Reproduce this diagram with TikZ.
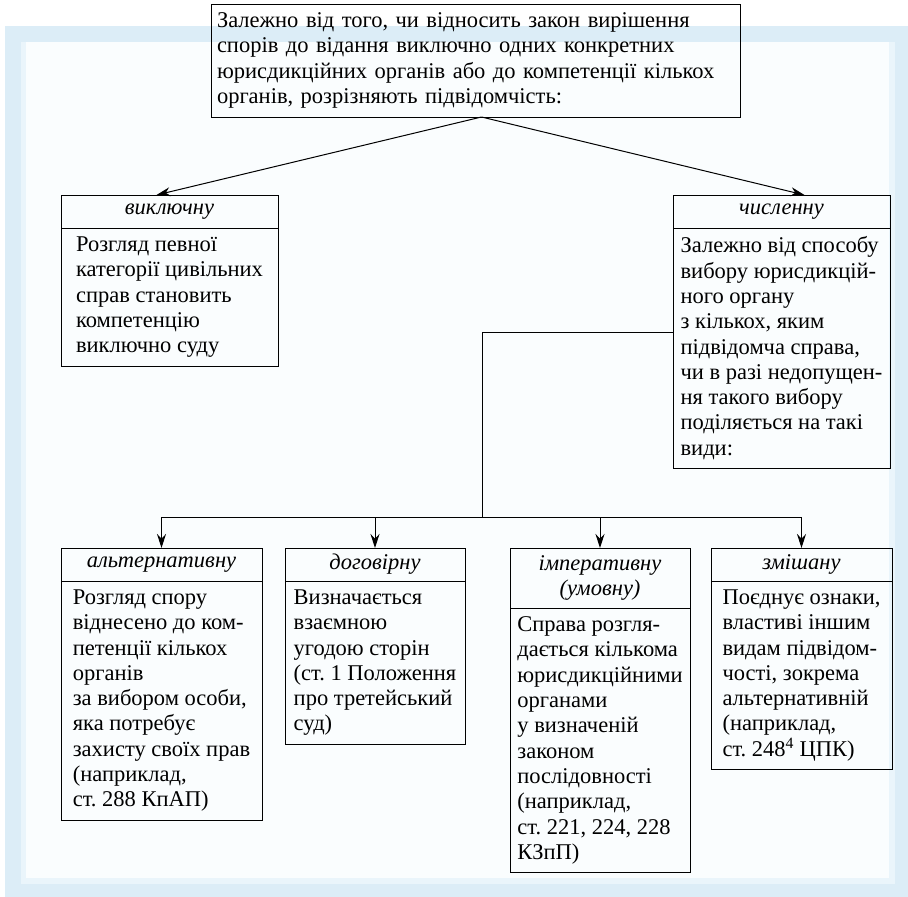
\documentclass[tikz,border=0pt]{standalone}
\usepackage{fontspec}
\setmainfont{Liberation Serif}
\usetikzlibrary{arrows.meta, positioning, calc}
\definecolor{bandblue}{HTML}{DCEDF7}
\definecolor{stripblue}{HTML}{EAF5FB}
\definecolor{paper}{HTML}{FAFDFE}
\frenchspacing

\begin{document}
\begin{tikzpicture}[
    x=1pt, y=-1pt,
    font=\fontsize{22.5}{25.3}\selectfont,
    box/.style={draw, line width=1pt, outer sep=0pt, align=left,
                inner xsep=4pt, inner ysep=8.7pt},
    hd/.style={draw, line width=1pt, outer sep=0pt, align=center,
               inner sep=0pt, minimum height=33pt, anchor=north west,
               font=\fontsize{22.5}{25.3}\selectfont\itshape},
    arr/.style={-{Stealth[length=14pt, width=9pt]}, line width=1pt}
  ]
  % background frame
  \useasboundingbox (0,0) rectangle (908,897);
  \fill[bandblue]  (5,26)  rectangle (908,897);
  \fill[stripblue] (21,42) rectangle (895,884);
  \fill[paper]     (26,42) rectangle (889,878);

  % top
  \node[box, anchor=north west, inner xsep=6pt, text width=517pt] (top) at (211,4)
    {Залежно від того, чи відносить закон вирішення\\
     спорів до відання виключно одних конкретних\\
     юрисдикційних органів або до компетенції кількох\\
     органів, розрізняють підвідомчість:};

  % second level
  \node[hd, minimum width=217pt] (vykhd) at (61,195) {виключну};
  \node[box, minimum width=217pt, below=0pt of vykhd] (vyk)
    {Розгляд певної\\категорії цивільних\\справ становить\\компетенцію\\виключно суду};
  \node[hd, minimum width=217pt] (chyshd) at (673,195) {численну};
  \node[box, minimum width=217pt, below=0pt of chyshd] (chys)
    {Залежно від способу\\вибору юрисдикцій-\\ного органу\\з кількох, яким\\підвідомча справа,\\чи в разі недопущен-\\ня такого вибору\\поділяється на такі\\види:};

  % third level
  \node[hd, minimum width=201pt] (althd) at (61,548) {альтернативну};
  \node[box, minimum width=201pt, below=0pt of althd] (alt)
    {Розгляд спору\\віднесено до ком-\\петенції кількох\\органів\\за вибором особи,\\яка потребує\\захисту своїх прав\\(наприклад,\\ст. 288 КпАП)};
  \node[hd, minimum width=180pt] (doghd) at (285,548) {договірну};
  \node[box, minimum width=180pt, below=0pt of doghd] (dog)
    {Визначається\\взаємною\\угодою сторін\\(ст. 1 Положення\\про третейський\\суд)};
  \node[hd, minimum width=180pt, minimum height=60pt] (imphd) at (510,548) {імперативну\\(умовну)};
  \node[box, minimum width=180pt, below=0pt of imphd] (imp)
    {Справа розгля-\\дається кількома\\юрисдикційними\\органами\\у визначеній\\законом\\послідовності\\(наприклад,\\ст. 221, 224, 228\\КЗпП)};
  \node[hd, minimum width=181pt] (zmhd) at (711,548) {змішану};
  \node[box, minimum width=181pt, below=0pt of zmhd] (zm)
    {Поєднує ознаки,\\властиві іншим\\видам підвідом-\\чості, зокрема\\альтернативній\\(наприклад,\\ст. 248\textsuperscript{4} ЦПК)};

  % connectors
  \draw[arr] ([xshift=6pt]top.south) -- ([xshift=-13pt]vykhd.north);
  \draw[arr] ([xshift=6pt]top.south) -- ([xshift=23pt]chyshd.north);
  \coordinate (bus) at (482,517);
  \draw[line width=1pt] ([yshift=15.5pt]chys.west) -| (bus);
  \draw[line width=1pt] (althd.north |- bus) -- (zmhd.north |- bus);
  \foreach \n in {alt,dog,imp,zm}
    \draw[arr] (\n hd.north |- bus) -- (\n hd.north);
\end{tikzpicture}
\end{document}
